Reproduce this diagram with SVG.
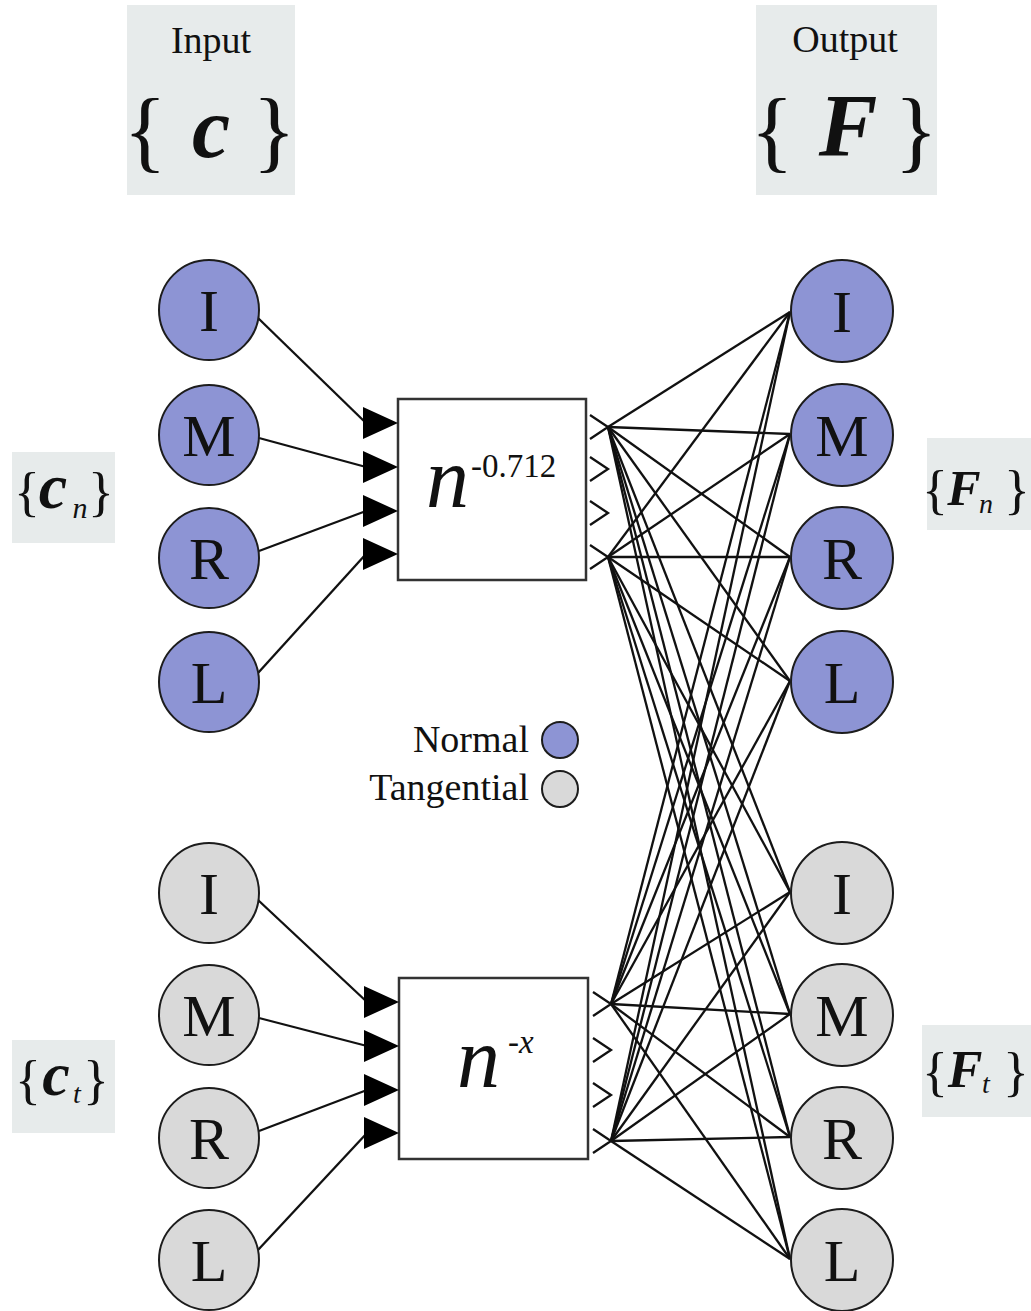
<svg xmlns="http://www.w3.org/2000/svg" xmlns:xlink="http://www.w3.org/1999/xlink" width="1031" height="1311" viewBox="0 0 1031 1311">
  <style>
    .lbl { fill: #e7ebeb; }
    .serif { font-family: "Liberation Serif", "Times New Roman", serif; fill: #111; }
    .bi { font-weight: bold; font-style: italic; }
    .it { font-style: italic; }
    .nrm { fill: #8d94d4; stroke: #1c1c1c; stroke-width: 2; }
    .tan { fill: #d9d9d9; stroke: #1c1c1c; stroke-width: 2; }
    .box { fill: #ffffff; stroke: #333; stroke-width: 2.5; }
    .wire { stroke: #111; stroke-width: 2.3; fill: none; }
    .chev { stroke: #111; stroke-width: 2.3; fill: none; }
    .letter { font-size: 60px; text-anchor: middle; }
  </style>
  <defs>
    <path id="tri" d="M -35 -16 L 0 0 L -35 16 Z" fill="#000"/>
    <path id="chev" d="M -18 -12 L 0 0 L -18 12" class="chev"/>
  </defs>

  <rect width="1031" height="1311" fill="#ffffff"/>

  <!-- heading labels -->
  <g id="input-label">
    <rect class="lbl" x="127" y="5" width="168" height="190"/>
    <text class="serif" x="211" y="53" font-size="38" text-anchor="middle">Input</text>
    <text class="serif" x="145" y="161" font-size="90" text-anchor="middle">{</text>
    <text class="serif bi" x="211" y="157" font-size="86" text-anchor="middle">c</text>
    <text class="serif" x="274" y="161" font-size="90" text-anchor="middle">}</text>
  </g>
  <g id="output-label">
    <rect class="lbl" x="756" y="5" width="181" height="190"/>
    <text class="serif" x="845" y="52" font-size="38" text-anchor="middle">Output</text>
    <text class="serif" x="772" y="161" font-size="90" text-anchor="middle">{</text>
    <text class="serif bi" x="848" y="155" font-size="88" text-anchor="middle">F</text>
    <text class="serif" x="916" y="161" font-size="90" text-anchor="middle">}</text>
  </g>

  <!-- side group labels -->
  <g id="cn-label">
    <rect class="lbl" x="12" y="452" width="103" height="91"/>
    <text class="serif" x="27" y="510" font-size="54" text-anchor="middle">{</text>
    <text class="serif bi" x="53" y="508" font-size="64" text-anchor="middle">c</text>
    <text class="serif it" x="80" y="518" font-size="30" text-anchor="middle">n</text>
    <text class="serif" x="101" y="510" font-size="54" text-anchor="middle">}</text>
  </g>
  <g id="fn-label">
    <rect class="lbl" x="927" y="438" width="104" height="92"/>
    <text class="serif" x="935" y="508" font-size="54" text-anchor="middle">{</text>
    <text class="serif bi" x="964" y="505" font-size="50" text-anchor="middle">F</text>
    <text class="serif it" x="986" y="513" font-size="28" text-anchor="middle">n</text>
    <text class="serif" x="1017" y="508" font-size="54" text-anchor="middle">}</text>
  </g>
  <g id="ct-label">
    <rect class="lbl" x="12" y="1040" width="103" height="93"/>
    <text class="serif" x="28" y="1098" font-size="54" text-anchor="middle">{</text>
    <text class="serif bi" x="56" y="1095" font-size="62" text-anchor="middle">c</text>
    <text class="serif it" x="77" y="1103" font-size="28" text-anchor="middle">t</text>
    <text class="serif" x="96" y="1098" font-size="54" text-anchor="middle">}</text>
  </g>
  <g id="ft-label">
    <rect class="lbl" x="922" y="1025" width="109" height="92"/>
    <text class="serif" x="935" y="1090" font-size="54" text-anchor="middle">{</text>
    <text class="serif bi" x="965" y="1087" font-size="52" text-anchor="middle">F</text>
    <text class="serif it" x="986" y="1093" font-size="28" text-anchor="middle">t</text>
    <text class="serif" x="1016" y="1090" font-size="54" text-anchor="middle">}</text>
  </g>

  <!-- connectors -->
  <g id="connectors" class="wire">
    <!-- inputs into the normal block -->
    <line x1="258" y1="318" x2="366" y2="423"/>
    <line x1="259" y1="438" x2="366" y2="467"/>
    <line x1="259" y1="551" x2="366" y2="511"/>
    <line x1="258" y1="673" x2="366" y2="554"/>
    <!-- inputs into the tangential block -->
    <line x1="258" y1="900" x2="367" y2="1002"/>
    <line x1="259" y1="1018" x2="367" y2="1046"/>
    <line x1="259" y1="1131" x2="367" y2="1090"/>
    <line x1="258" y1="1250" x2="367" y2="1133"/>
    <!-- fan-out from normal block, upper port -->
    <line x1="608" y1="427" x2="790" y2="312"/>
    <line x1="608" y1="427" x2="790" y2="434"/>
    <line x1="608" y1="427" x2="790" y2="557"/>
    <line x1="608" y1="427" x2="790" y2="681"/>
    <line x1="608" y1="427" x2="790" y2="892"/>
    <line x1="608" y1="427" x2="790" y2="1014"/>
    <line x1="608" y1="427" x2="790" y2="1137"/>
    <line x1="608" y1="427" x2="790" y2="1259"/>
    <!-- fan-out from normal block, lower port -->
    <line x1="608" y1="557" x2="790" y2="312"/>
    <line x1="608" y1="557" x2="790" y2="434"/>
    <line x1="608" y1="557" x2="790" y2="557"/>
    <line x1="608" y1="557" x2="790" y2="681"/>
    <line x1="608" y1="557" x2="790" y2="892"/>
    <line x1="608" y1="557" x2="790" y2="1014"/>
    <line x1="608" y1="557" x2="790" y2="1137"/>
    <line x1="608" y1="557" x2="790" y2="1259"/>
    <!-- fan-out from tangential block, upper port -->
    <line x1="611" y1="1004" x2="790" y2="312"/>
    <line x1="611" y1="1004" x2="790" y2="434"/>
    <line x1="611" y1="1004" x2="790" y2="557"/>
    <line x1="611" y1="1004" x2="790" y2="681"/>
    <line x1="611" y1="1004" x2="790" y2="892"/>
    <line x1="611" y1="1004" x2="790" y2="1014"/>
    <line x1="611" y1="1004" x2="790" y2="1137"/>
    <line x1="611" y1="1004" x2="790" y2="1259"/>
    <!-- fan-out from tangential block, lower port -->
    <line x1="611" y1="1141" x2="790" y2="312"/>
    <line x1="611" y1="1141" x2="790" y2="434"/>
    <line x1="611" y1="1141" x2="790" y2="557"/>
    <line x1="611" y1="1141" x2="790" y2="681"/>
    <line x1="611" y1="1141" x2="790" y2="892"/>
    <line x1="611" y1="1141" x2="790" y2="1014"/>
    <line x1="611" y1="1141" x2="790" y2="1137"/>
    <line x1="611" y1="1141" x2="790" y2="1259"/>
  </g>

  <!-- normal block -->
  <g id="block-normal">
    <rect class="box" x="398" y="399" width="188" height="181"/>
    <use xlink:href="#tri" x="398" y="423"/>
    <use xlink:href="#tri" x="398" y="467"/>
    <use xlink:href="#tri" x="398" y="511"/>
    <use xlink:href="#tri" x="398" y="554"/>
    <use xlink:href="#chev" x="608" y="427"/>
    <use xlink:href="#chev" x="608" y="469"/>
    <use xlink:href="#chev" x="608" y="513"/>
    <use xlink:href="#chev" x="608" y="557"/>
    <text class="serif it" x="426" y="507" font-size="86">n</text>
    <text class="serif" x="471" y="477" font-size="33">-0.712</text>
  </g>

  <!-- tangential block -->
  <g id="block-tangential">
    <rect class="box" x="399" y="978" width="189" height="181"/>
    <use xlink:href="#tri" x="399" y="1002"/>
    <use xlink:href="#tri" x="399" y="1046"/>
    <use xlink:href="#tri" x="399" y="1090"/>
    <use xlink:href="#tri" x="399" y="1133"/>
    <use xlink:href="#chev" x="611" y="1004"/>
    <use xlink:href="#chev" x="611" y="1050"/>
    <use xlink:href="#chev" x="611" y="1095"/>
    <use xlink:href="#chev" x="611" y="1141"/>
    <text class="serif it" x="457" y="1087" font-size="86">n</text>
    <text class="serif it" x="508" y="1053" font-size="33">-x</text>
  </g>

  <!-- input nodes, normal -->
  <g id="in-n-I"><circle class="nrm" cx="209" cy="310" r="50"/><text class="serif letter" x="209" y="331">I</text></g>
  <g id="in-n-M"><circle class="nrm" cx="209" cy="435" r="50"/><text class="serif letter" x="209" y="456">M</text></g>
  <g id="in-n-R"><circle class="nrm" cx="209" cy="558" r="50"/><text class="serif letter" x="209" y="579">R</text></g>
  <g id="in-n-L"><circle class="nrm" cx="209" cy="682" r="50"/><text class="serif letter" x="209" y="703">L</text></g>
  <!-- input nodes, tangential -->
  <g id="in-t-I"><circle class="tan" cx="209" cy="893" r="50"/><text class="serif letter" x="209" y="914">I</text></g>
  <g id="in-t-M"><circle class="tan" cx="209" cy="1015" r="50"/><text class="serif letter" x="209" y="1036">M</text></g>
  <g id="in-t-R"><circle class="tan" cx="209" cy="1138" r="50"/><text class="serif letter" x="209" y="1159">R</text></g>
  <g id="in-t-L"><circle class="tan" cx="209" cy="1260" r="50"/><text class="serif letter" x="209" y="1281">L</text></g>

  <!-- output nodes, normal -->
  <g id="out-n-I"><circle class="nrm" cx="842" cy="311" r="51"/><text class="serif letter" x="842" y="332">I</text></g>
  <g id="out-n-M"><circle class="nrm" cx="842" cy="435" r="51"/><text class="serif letter" x="842" y="456">M</text></g>
  <g id="out-n-R"><circle class="nrm" cx="842" cy="558" r="51"/><text class="serif letter" x="842" y="579">R</text></g>
  <g id="out-n-L"><circle class="nrm" cx="842" cy="682" r="51"/><text class="serif letter" x="842" y="703">L</text></g>
  <!-- output nodes, tangential -->
  <g id="out-t-I"><circle class="tan" cx="842" cy="893" r="51"/><text class="serif letter" x="842" y="914">I</text></g>
  <g id="out-t-M"><circle class="tan" cx="842" cy="1015" r="51"/><text class="serif letter" x="842" y="1036">M</text></g>
  <g id="out-t-R"><circle class="tan" cx="842" cy="1138" r="51"/><text class="serif letter" x="842" y="1159">R</text></g>
  <g id="out-t-L"><circle class="tan" cx="842" cy="1260" r="51"/><text class="serif letter" x="842" y="1281">L</text></g>

  <!-- legend -->
  <g id="legend">
    <text class="serif" x="529" y="752" font-size="38" text-anchor="end">Normal</text>
    <circle class="nrm" cx="560" cy="740" r="18"/>
    <text class="serif" x="529" y="800" font-size="38" text-anchor="end">Tangential</text>
    <circle class="tan" cx="560" cy="789" r="18"/>
  </g>
</svg>
